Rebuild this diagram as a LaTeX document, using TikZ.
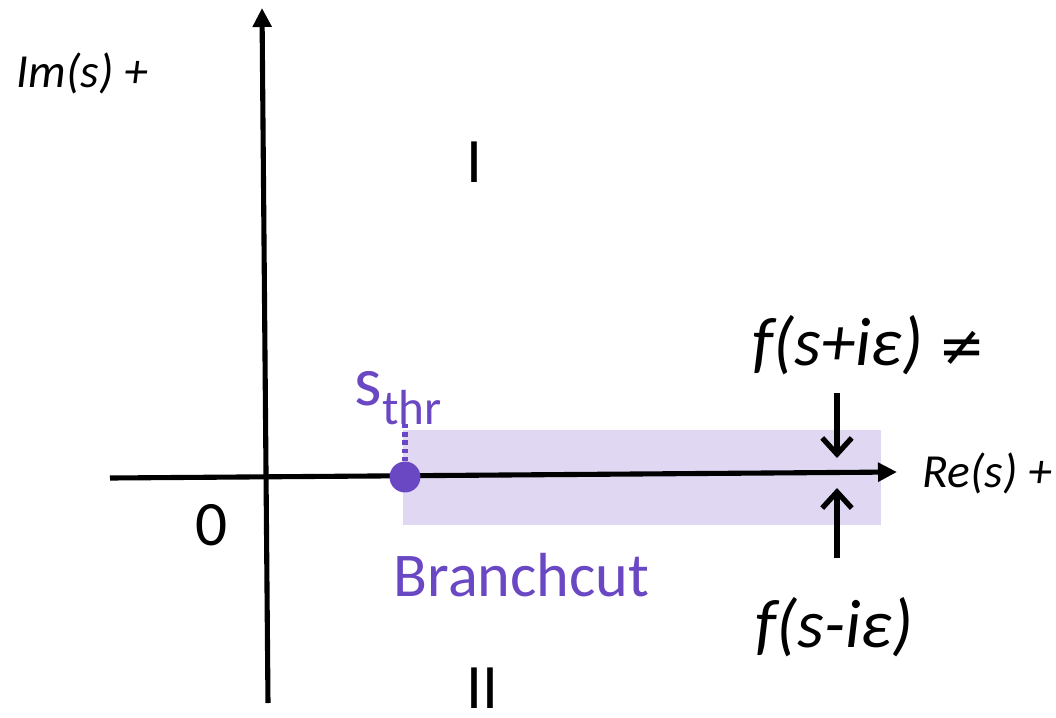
\documentclass[tikz,border=0pt]{standalone}
\usepackage{fontspec}
\setmainfont{Carlito}
\newfontfamily\symfont{DejaVu Sans}
\usetikzlibrary{arrows.meta,positioning}
\definecolor{cutpurple}{RGB}{106,72,196}
\definecolor{cutfill}{RGB}{224,216,242}
\tikzset{
  ax/.style     ={-{Triangle[length=5.4pt,width=5.2pt]}, line width=1.45pt},
  jump/.style   ={-{Straight Barb[length=4.6pt,width=8.4pt]}, line width=1.5pt},
  cutbox/.style ={fill=cutfill, draw=none},
  thrdot/.style ={circle, fill=cutpurple, minimum size=8.8pt, inner sep=0pt},
  thrline/.style={cutpurple, line width=1.6pt, dash pattern=on 1.2pt off 1.1pt},
  axlbl/.style  ={font=\fontsize{13.5}{15}\selectfont\itshape, inner sep=0pt},
  flbl/.style   ={font=\fontsize{19.5}{24}\selectfont\itshape, inner sep=0pt},
  sheet/.style  ={font=\fontsize{18}{21}\selectfont, inner sep=0pt},
  cutlbl/.style ={font=\fontsize{17.7}{21}\selectfont, text=cutpurple, inner sep=0pt},
}
\begin{document}
\begin{tikzpicture}[x=0.01cm,y=-0.01cm]
  \useasboundingbox (0,0) rectangle (1056,717);
  % branch cut region
  \fill[cutbox] (403,430) rectangle (881,525);
  % axes
  \coordinate (xl) at (110,478);
  \coordinate (xr) at (897,472);
  \coordinate (yb) at (268,703);
  \coordinate (yt) at (262,8);
  \draw[ax] (xl) -- (xr);
  \draw[ax] (yb) -- (yt);
  % threshold
  \node[thrdot] (thr) at (405,477) {};
  \node[cutpurple, font=\fontsize{20}{22}\selectfont, inner sep=0pt,
        anchor=base west] (thrlbl) at (354,405)
        {s\raisebox{-0.28em}{\fontsize{14}{16}\selectfont thr}};
  \coordinate (thrtop) at (405,421);
  \draw[thrline] (thr.north) -- (thrtop);
  % approach from above and below
  \coordinate (upA) at (837,393);
  \coordinate (upB) at (837,458);
  \coordinate (loA) at (837,558);
  \coordinate (loB) at (837,488);
  \draw[jump] (upA) -- (upB);
  \draw[jump] (loA) -- (loB);
  % labels
  \node[axlbl, anchor=west] (im) at (16,73) {Im(s) +};
  \node[axlbl, anchor=west] (re) at (922,473) {Re(s) +};
  \node[flbl, anchor=west] (fplus) at (752,345)
        {f(s+iε) {\symfont\upshape\fontsize{16}{18}\selectfont ≠}};
  \node[flbl, anchor=west] (fminus) at (755,627) {f(s-iε)};
  \node[sheet] (zero) at (212,525) {0};
  \node[sheet] (sI) at (474,162) {I};
  \node[sheet] (sII) at (482,688) {II};
  \node[cutlbl, anchor=west] (bc) at (393,575) {Branchcut};
\end{tikzpicture}
\end{document}
